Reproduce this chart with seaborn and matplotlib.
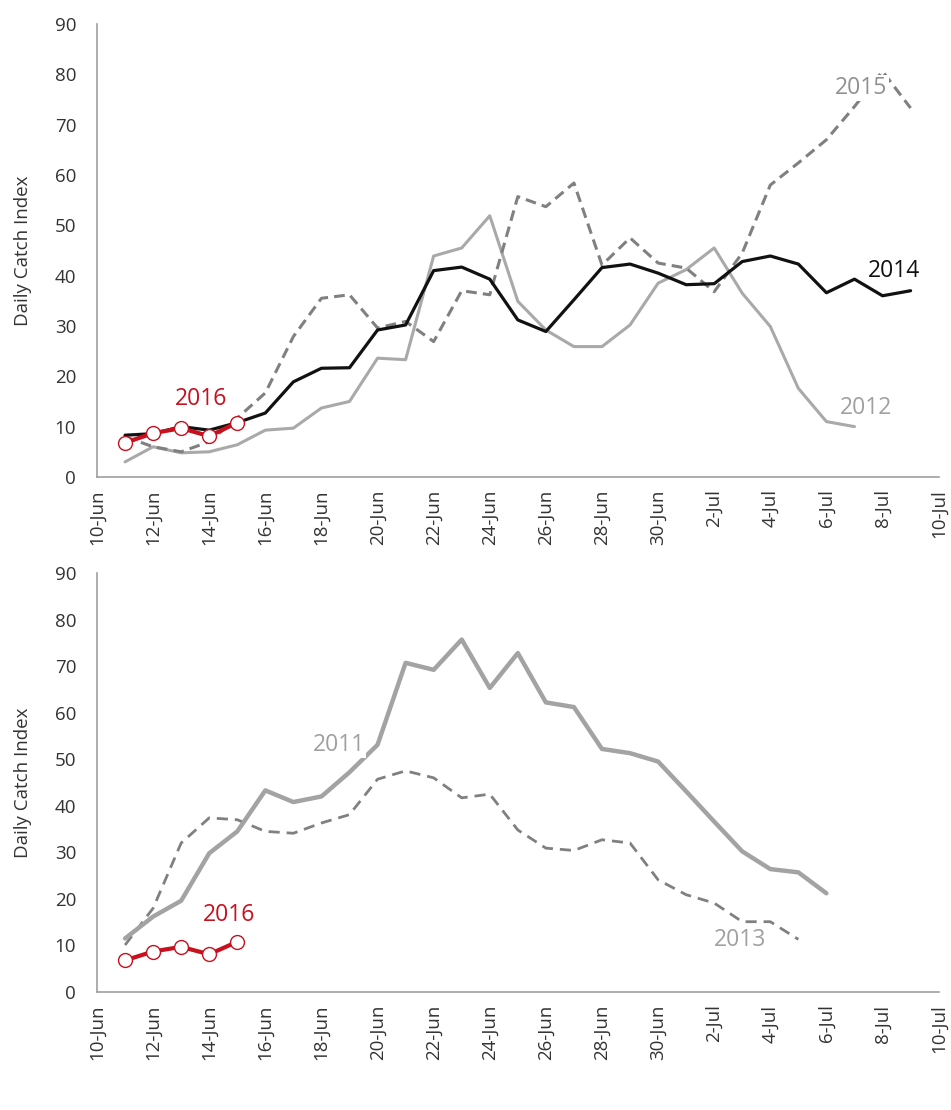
import pandas as pd
import matplotlib.pyplot as plt
import matplotlib.dates as mdates
import seaborn as sns

# Daily catch index values, each series starts on 11-Jun
catch_2014 = [8.3, 8.6, 10.0, 9.3, 10.8, 12.7, 18.9, 21.6, 21.7, 29.2, 30.2, 41.0, 41.7, 39.3,
              31.2, 28.9, 35.2, 41.6, 42.3, 40.5, 38.2, 38.4, 42.8, 43.9, 42.3, 36.6, 39.3, 36.0, 37.0]
catch_2015 = [8.0, 6.0, 5.0, 7.0, 11.7, 16.7, 27.9, 35.5, 36.2, 29.6, 30.9, 26.9, 37.0, 36.2,
              55.7, 53.7, 58.4, 42.1, 47.5, 42.5, 41.5, 36.8, 44.5, 58.0, 62.4, 67.0, 73.6, 80.6, 73.3]
catch_2012 = [3.0, 6.0, 4.8, 5.0, 6.4, 9.3, 9.7, 13.7, 15.0, 23.6, 23.3, 43.9, 45.5, 51.9,
              34.9, 29.2, 25.9, 25.9, 30.2, 38.5, 41.2, 45.5, 36.5, 29.9, 17.6, 11.0, 10.0]
catch_2011 = [11.5, 16.2, 19.6, 29.8, 34.5, 43.3, 40.8, 42.0, 47.2, 53.1, 70.7, 69.2, 75.7, 65.3,
              72.8, 62.2, 61.2, 52.2, 51.3, 49.5, 43.1, 36.6, 30.2, 26.4, 25.7, 21.2]
catch_2013 = [10.1, 18.0, 32.0, 37.4, 37.0, 34.5, 34.1, 36.3, 38.1, 45.7, 47.5, 46.0, 41.7, 42.5,
              34.8, 30.9, 30.4, 32.7, 32.0, 24.1, 20.9, 19.1, 15.1, 15.1, 11.3]
catch_2016 = [6.8, 8.7, 9.7, 8.1, 10.8]

start = pd.Timestamp("2016-06-11")


def series(values):
    return pd.DataFrame({"date": pd.date_range(start, periods=len(values), freq="D"),
                         "catch": values})


sns.set_style("white")
plt.rcParams["font.family"] = ["Open Sans", "DejaVu Sans"]

fig = plt.figure(figsize=(9.51, 11.10), dpi=100)
ax1 = fig.add_axes([0.102, 0.5703, 0.885, 0.4081])
ax2 = fig.add_axes([0.102, 0.1063, 0.885, 0.3775])

red = "#c8101e"
box = dict(facecolor="white", edgecolor="none", pad=1)

# top panel
sns.lineplot(data=series(catch_2012), x="date", y="catch", ax=ax1, color="#a9a9a9", lw=2.2)
sns.lineplot(data=series(catch_2015), x="date", y="catch", ax=ax1, color="#808080", lw=2.2,
             dashes=False, linestyle=(0, (3.5, 2)))
sns.lineplot(data=series(catch_2014), x="date", y="catch", ax=ax1, color="#111111", lw=2.3)
sns.lineplot(data=series(catch_2016), x="date", y="catch", ax=ax1, color=red, lw=3,
             marker="o", markersize=10, markerfacecolor="white", markeredgecolor=red, markeredgewidth=1)

# bottom panel
sns.lineplot(data=series(catch_2013), x="date", y="catch", ax=ax2, color="#808080", lw=2.0,
             dashes=False, linestyle=(0, (4, 2.5)))
sns.lineplot(data=series(catch_2011), x="date", y="catch", ax=ax2, color="#a3a3a3", lw=3.2)
sns.lineplot(data=series(catch_2016), x="date", y="catch", ax=ax2, color=red, lw=3,
             marker="o", markersize=10, markerfacecolor="white", markeredgecolor=red, markeredgewidth=1)


def day(d):
    return mdates.date2num(pd.Timestamp(d))


lab = dict(fontsize=16.5, ha="center", va="center", bbox=box)
ax1.text(day("2016-07-07 06:00"), 77.3, "2015", color="#909090", **lab)
ax1.text(day("2016-07-08 10:00"), 41.0, "2014", color="#111111", **lab)
ax1.text(day("2016-07-07 10:00"), 13.7, "2012", color="#a0a0a0", **lab)
ax1.text(day("2016-06-13 17:00"), 15.5, "2016", color=red, **lab)
ax2.text(day("2016-06-18 15:00"), 53.1, "2011", color="#a0a0a0", **lab)
ax2.text(day("2016-07-02 22:00"), 11.2, "2013", color="#a0a0a0", **lab)
ax2.text(day("2016-06-14 17:00"), 16.6, "2016", color=red, **lab)

tick_dates = pd.date_range("2016-06-10", "2016-07-10", freq="2D")
tick_labels = [f"{d.day}-{d.strftime('%b')}" for d in tick_dates]

for ax in (ax1, ax2):
    ax.set_xlim(pd.Timestamp("2016-06-10"), pd.Timestamp("2016-07-10"))
    ax.set_ylim(0, 90)
    ax.set_yticks(range(0, 91, 10))
    ax.set_xticks(tick_dates)
    ax.set_xticklabels(tick_labels)
    ax.tick_params(axis="x", rotation=90, labelsize=13.5, colors="#333333", length=8, width=1,
                   color="#a0a0a0", direction="inout", pad=5)
    ax.tick_params(axis="y", labelsize=13.5, colors="#333333", length=6, width=1, color="#a0a0a0",
                   direction="out", pad=9)
    for s in ("top", "right"):
        ax.spines[s].set_visible(False)
    for s in ("left", "bottom"):
        ax.spines[s].set_color("#a0a0a0")
        ax.spines[s].set_linewidth(1.2)
    ax.set_xlabel("")
    ax.set_ylabel("Daily Catch Index", fontsize=13.5, color="#333333", labelpad=16)

fig.savefig("out.png", dpi=100)
